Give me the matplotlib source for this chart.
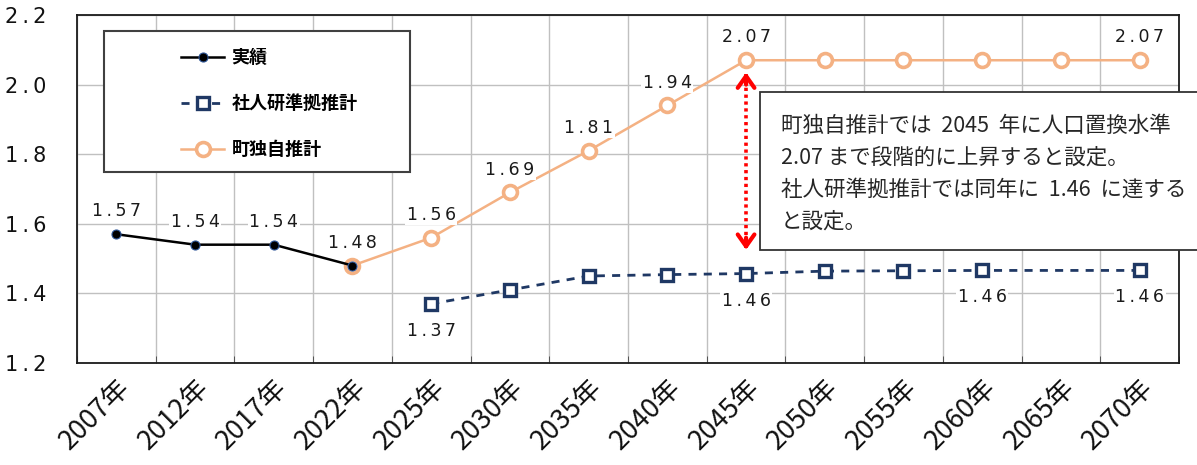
import matplotlib
matplotlib.use("Agg")
import matplotlib.pyplot as plt
from matplotlib.patches import Rectangle
import numpy as np

plt.rcParams['font.family'] = ['Noto Sans CJK JP', 'DejaVu Sans']

years = ["2007年", "2012年", "2017年", "2022年", "2025年", "2030年", "2035年",
         "2040年", "2045年", "2050年", "2055年", "2060年", "2065年", "2070年"]

actual_idx = [0, 1, 2, 3]
actual_val = [1.57, 1.54, 1.54, 1.48]

town_idx = [3, 4, 5, 6, 7, 8, 9, 10, 11, 12, 13]
town_val = [1.48, 1.56, 1.69, 1.81, 1.94, 2.07, 2.07, 2.07, 2.07, 2.07, 2.07]

ipss_idx = [4, 5, 6, 7, 8, 9, 10, 11, 13]
ipss_val = [1.37, 1.41, 1.45, 1.454, 1.457, 1.464, 1.465, 1.466, 1.466]

actual_labels = {0: "1.57", 1: "1.54", 2: "1.54", 3: "1.48"}
town_labels = {4: "1.56", 5: "1.69", 6: "1.81", 7: "1.94", 8: "2.07", 13: "2.07"}
ipss_labels = {4: "1.37", 8: "1.46", 11: "1.46", 13: "1.46"}

yticks = [1.2, 1.4, 1.6, 1.8, 2.0, 2.2]

note_lines = ["町独自推計では  2045  年に人口置換水準",
              "2.07 まで段階的に上昇すると設定。",
              "社人研準拠推計では同年に  1.46  に達する",
              "と設定。"]

W, H = 1197, 465
fig = plt.figure(figsize=(W / 100, H / 100), dpi=100)
ax = fig.add_axes([77 / W, 1 - 363 / H, (1179 - 77) / W, (363 - 15) / H])

ax.set_xlim(-0.5, len(years) - 0.5)
ax.set_ylim(1.2, 2.2)

# grid
ax.set_xticks(np.arange(len(years)))
ax.set_xticks(np.arange(len(years) + 1) - 0.5, minor=True)
ax.set_yticks(yticks)
ax.grid(True, which='minor', axis='x', color='#C0C0C0', lw=1, zorder=0)
ax.grid(True, which='major', axis='y', color='#C0C0C0', lw=1, zorder=0)
ax.tick_params(axis='x', which='major', length=0, pad=8)
ax.tick_params(axis='x', which='minor', length=5, direction='in', color='#404040')
ax.tick_params(axis='y', length=0, pad=22)
for s in ax.spines.values():
    s.set_color('#1a1a1a')
    s.set_linewidth(1.3)


def spaced(s):
    return "\u2009".join(s)


ax.set_xticklabels(years, rotation=45, ha='right', va='top', rotation_mode='anchor',
                   fontsize=19.5, color='#111111')
ax.set_yticklabels([spaced(f"{v:.1f}") for v in yticks], family='DejaVu Sans',
                   fontsize=15, color='#111111')

orange = '#F4B183'
navy = '#1F3864'

ax.plot(town_idx, town_val, color=orange, lw=1.8, marker='o', ms=10,
        mfc='white', mec=orange, mew=2.6, zorder=4, label='町独自推計')
ax.plot(ipss_idx, ipss_val, color=navy, lw=2, linestyle=(0, (2.9, 2.6)),
        marker='s', ms=9, mfc='white', mec=navy, mew=2.4, zorder=4,
        label='社人研準拠推計')
ax.plot(actual_idx, actual_val, color='black', lw=1.8, marker='o', ms=6.5,
        mfc='black', mec='#2E5597', mew=0.8, zorder=5, label='実績')

lab_kw = dict(family='DejaVu Sans', fontsize=12.5, color='#1a1a1a', ha='center',
              zorder=6, bbox=dict(facecolor='white', edgecolor='none', pad=1))
for i, t in actual_labels.items():
    ax.annotate(spaced(t), (i, actual_val[actual_idx.index(i)]), xytext=(0, 10),
                textcoords='offset points', va='bottom', **lab_kw)
for i, t in town_labels.items():
    ax.annotate(spaced(t), (i, town_val[town_idx.index(i)]), xytext=(0, 10),
                textcoords='offset points', va='bottom', **lab_kw)
for i, t in ipss_labels.items():
    ax.annotate(spaced(t), (i, ipss_val[ipss_idx.index(i)]), xytext=(0, -13),
                textcoords='offset points', va='top', **lab_kw)

# legend
frame = Rectangle((104 / W, 1 - 172 / H), (410 - 104) / W, (172 - 31) / H,
                  transform=fig.transFigure, facecolor='white', edgecolor='#404040',
                  lw=1.5, zorder=7)
fig.add_artist(frame)
h, l = ax.get_legend_handles_labels()
order = [2, 1, 0]
leg = fig.legend([h[k] for k in order], [l[k] for k in order], loc='upper left',
                 bbox_to_anchor=(172 / W, 1 - 39 / H), frameon=False, borderpad=0,
                 handlelength=2.4, handletextpad=0.4, labelspacing=1.5,
                 prop=dict(family='Noto Sans CJK JP', weight='bold', size=13),
                 numpoints=1)
leg.set_zorder(8)

# red dotted double arrow at 2045
arrow_x = 8
arrow_top, arrow_bot = 2.03, 1.53
ax.plot([arrow_x, arrow_x], [arrow_top, arrow_bot], color='#FF0000', lw=2.6,
        linestyle=(0, (0.9, 1.0)), solid_capstyle='butt', dash_capstyle='butt',
        zorder=6)
for y0, y1 in [(arrow_top - 0.03, arrow_top + 0.005), (arrow_bot + 0.03, arrow_bot - 0.005)]:
    ax.annotate('', xy=(arrow_x, y1), xytext=(arrow_x, y0),
                arrowprops=dict(arrowstyle='->,head_length=0.85,head_width=0.6',
                                color='#FF0000', lw=3, shrinkA=0, shrinkB=0),
                zorder=6)

# note box
box = Rectangle((760 / W, 1 - 250 / H), (1210 - 760) / W, (250 - 92) / H,
                transform=fig.transFigure, facecolor='white', edgecolor='#333333',
                lw=1.3, zorder=9, clip_on=False)
fig.add_artist(box)
ys = [126, 158, 190, 222]
for t, yy in zip(note_lines, ys):
    fig.text(781 / W, 1 - yy / H, t, fontsize=15.5, color='#262626', va='center',
             ha='left', zorder=10)

fig.savefig('out.png', dpi=100)
